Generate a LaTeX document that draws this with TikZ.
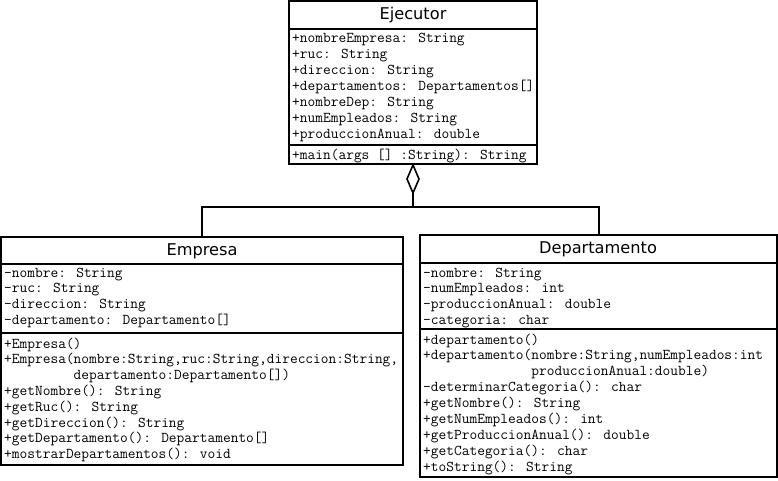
\documentclass[tikz,border=0pt]{standalone}
\usepackage{fontspec}
\newfontfamily\umlsans{DejaVu Sans}
\tikzset{
  umlbox/.style={draw, line width=1.6pt},
  umlsep/.style={line width=1.6pt},
  umllink/.style={line width=1.6pt},
  umltitle/.style={font=\umlsans\fontsize{16.2}{18}\selectfont, inner sep=0},
  umltext/.style={font=\ttfamily\fontsize{15}{16}\selectfont, anchor=base west, inner sep=0},
}
\begin{document}
\begin{tikzpicture}[x=1pt,y=-1pt]
\useasboundingbox (0,0) rectangle (778,480);
% ---------- Ejecutor ----------
\draw[umlbox] (289,1) rectangle (537,164);
\draw[umlsep] (289,29) -- (537,29);
\draw[umlsep] (289,145) -- (537,145);
\node[umltitle] (ejT) at (413,15) {Ejecutor};
\foreach \t [count=\i] in {{+nombreEmpresa: String},{+ruc: String},{+direccion: String},{+departamentos: Departamentos[]},{+nombreDep: String},{+numEmpleados: String},{+produccionAnual: double}}
  \node[umltext] (ejA\i) at (292,{42+16*(\i-1)}) {\t};
\node[umltext] (ejM1) at (292,159) {+main(args [] :String): String};
% ---------- Empresa ----------
\draw[umlbox] (1,237) rectangle (403,465);
\draw[umlsep] (1,264) -- (403,264);
\draw[umlsep] (1,333) -- (403,333);
\node[umltitle] (emT) at (202,251) {Empresa};
\foreach \t [count=\i] in {{-nombre: String},{-ruc: String},{-direccion: String},{-departamento: Departamento[]}}
  \node[umltext] (emA\i) at (4,{277+15.9*(\i-1)}) {\t};
\foreach \t [count=\i] in {{+Empresa()},{+Empresa(nombre:String,ruc:String,direccion:String,},{\phantom{+Empresa(}departamento:Departamento[])},{+getNombre(): String},{+getRuc(): String},{+getDireccion(): String},{+getDepartamento(): Departamento[]},{+mostrarDepartamentos(): void}}
  \node[umltext] (emM\i) at (4,{348+15.8*(\i-1)}) {\t};
% ---------- Departamento ----------
\draw[umlbox] (420,235) rectangle (777,477);
\draw[umlsep] (420,263) -- (777,263);
\draw[umlsep] (420,329) -- (777,329);
\node[umltitle] (deT) at (598,249) {Departamento};
\foreach \t [count=\i] in {{-nombre: String},{-numEmpleados: int},{-produccionAnual: double},{-categoria: char}}
  \node[umltext] (deA\i) at (423,{277+15.7*(\i-1)}) {\t};
\foreach \t [count=\i] in {{+departamento()},{+departamento(nombre:String,numEmpleados:int},{\phantom{+departamento(}produccionAnual:double)},{-determinarCategoria(): char},{+getNombre(): String},{+getNumEmpleados(): int},{+getProduccionAnual(): double},{+getCategoria(): char},{+toString(): String}}
  \node[umltext] (deM\i) at (423,{344+15.9*(\i-1)}) {\t};
% ---------- aggregation ----------
\coordinate (dTop) at (413,165);
\coordinate (dBot) at (413,193);
\coordinate (junc) at (413,207);
\coordinate (emTop) at (202,237);
\coordinate (deTop) at (599,235);
\draw[umllink, line join=miter] (dTop) -- (419,179) -- (dBot) -- (407,179) -- cycle;
\draw[umllink] (dBot) -- (junc);
\draw[umllink] (emTop) |- (junc) -| (deTop);
\end{tikzpicture}
\end{document}
